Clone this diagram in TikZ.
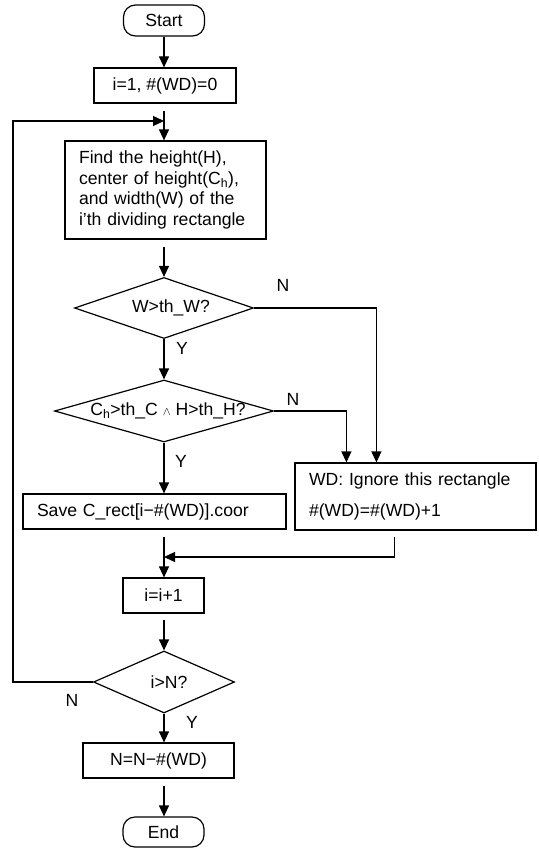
\documentclass[tikz,border=0pt]{standalone}
\usepackage{fontspec}
\setmainfont{Liberation Sans}
\usetikzlibrary{arrows.meta,shapes.geometric,calc}
\begin{document}
\begin{tikzpicture}[x=1pt,y=-1pt,
  every node/.style={font=\fontsize{17.6}{20.5}\selectfont},
  base/.style={draw, line width=1.2pt, inner sep=0pt},
  box/.style={base, rectangle, align=center},
  term/.style={base, rectangle, rounded corners=12pt},
  dia/.style={base, diamond},
  arr/.style={line width=1.2pt, -{Triangle[length=11pt,width=10pt]}},
  ln/.style={line width=1.2pt},
  lbl/.style={inner sep=0pt}
]
\useasboundingbox (0,0) rectangle (538,850);
\coordinate (axis) at (164,0);

\node[term, minimum width=81pt, minimum height=31pt] (start) at (164,20.5) {Start};
\node[box, minimum width=142pt, minimum height=35pt] (init) at (165,85.5) {i=1,\ \#(WD)=0};
\node[box, text width=173pt, inner xsep=14pt, minimum height=98pt, align=left] (find) at (165.5,190)
  {Find the height(H),\\ center of height(C\textsubscript{h}),\\ and width(W) of the\\ i’th dividing rectangle};
\node[dia, minimum width=179pt, minimum height=61pt, label={[xshift=7pt]center:W>th\_W?}] (d1) at (164,308) {};
\node[dia, minimum width=219pt, minimum height=62pt, label={[xshift=4pt]center:C\textsubscript{h}>th\_C {\fontsize{13}{13}\selectfont$\wedge$} H>th\_H?}] (d2) at (164,411) {};
\node[box, text width=235pt, inner xsep=14pt, minimum height=35pt, align=left] (save) at (154.5,511.5) {Save C\_rect[i−\#(WD)].coor};
\node[box, text width=213pt, inner xsep=14pt, minimum height=67pt, align=left] (wd) at (415.5,496.5) {WD: Ignore this rectangle\\[10pt]\#(WD)=\#(WD)+1};
\node[box, minimum width=81pt, minimum height=35pt] (inc) at (163.5,595.5) {i=i+1};
\node[dia, minimum width=141pt, minimum height=62pt, label={[xshift=5pt]center:i>N?}] (d3) at (164,682) {};
\node[box, minimum width=151pt, minimum height=35pt] (nn) at (158.5,760.5) {N=N−\#(WD)};
\node[term, minimum width=81pt, minimum height=30pt] (end) at (163.5,832) {End};

\coordinate (loopin) at (164,121);
\coordinate (lb) at (13,682);
\coordinate (lt) at (13,121);
\coordinate (merge) at (164,557);

\draw[arr] (start.south -| axis) -- (init.north -| axis);
\draw[arr, shorten <=7pt] (init.south -| axis) -- (find.north -| axis);
\draw[arr] (d3.west) -- (lb) -- (lt) -- (loopin);
\draw[arr, shorten <=7pt] (find.south -| axis) -- (d1.north);
\draw[arr] (d1.east) -| ($(wd.north west)+(82,0)$);
\draw[arr] (d1.south) -- (d2.north);
\draw[arr] (d2.east) -| ($(wd.north west)+(52,0)$);
\draw[arr] (d2.south) -- (d2.south |- save.north);
\draw[arr, shorten <=7pt] (save.south -| axis) -- (inc.north -| axis);
\draw[arr, shorten <=6pt] ($(wd.south west)+(100,0)$) |- (merge);
\draw[arr, shorten <=6pt] (inc.south -| axis) -- (d3.north);
\draw[arr] (d3.south) -- (d3.south |- nn.north);
\draw[arr, shorten <=7pt] (nn.south -| axis) -- (end.north -| axis);

\node[lbl] (n1) at (283,285) {N};
\node[lbl] (y1) at (182,348) {Y};
\node[lbl] (n2) at (293,399) {N};
\node[lbl] (y2) at (181,461) {Y};
\node[lbl] (n3) at (72,700) {N};
\node[lbl] (y3) at (192,722) {Y};
\end{tikzpicture}
\end{document}
